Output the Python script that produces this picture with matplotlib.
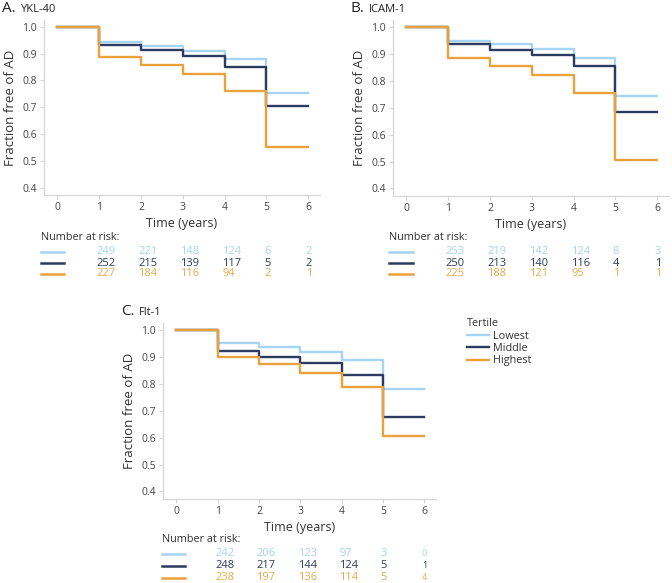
import numpy as np
import matplotlib
matplotlib.use("Agg")
import matplotlib.pyplot as plt
from matplotlib.transforms import blended_transform_factory

plt.rcParams.update({"font.family": ["Open Sans", "DejaVu Sans"], "font.size": 8})

# ---- data ----
years = [0, 1, 2, 3, 4, 5, 6]
tertiles = ["Lowest", "Middle", "Highest"]
colors = {"Lowest": "#a6d4f2", "Middle": "#2c3c60", "Highest": "#eba13b"}
txt_colors = {"Lowest": "#a6d4f2", "Middle": "#2c3c60", "Highest": "#e9a84a"}

ykl_surv = {"Lowest":  [1.0, 0.945, 0.930, 0.912, 0.879, 0.753],
            "Middle":  [1.0, 0.934, 0.913, 0.892, 0.852, 0.703],
            "Highest": [1.0, 0.886, 0.857, 0.824, 0.761, 0.552]}
icam_surv = {"Lowest":  [1.0, 0.948, 0.936, 0.917, 0.886, 0.744],
             "Middle":  [1.0, 0.936, 0.916, 0.897, 0.855, 0.683],
             "Highest": [1.0, 0.885, 0.855, 0.821, 0.756, 0.507]}
flt_surv = {"Lowest":  [1.0, 0.950, 0.935, 0.918, 0.889, 0.781],
            "Middle":  [1.0, 0.922, 0.900, 0.877, 0.833, 0.677],
            "Highest": [1.0, 0.899, 0.872, 0.842, 0.787, 0.605]}

ykl_risk = {"Lowest": [249, 221, 148, 124, 6, 2],
            "Middle": [252, 215, 139, 117, 5, 2],
            "Highest": [227, 184, 116, 94, 2, 1]}
icam_risk = {"Lowest": [253, 219, 142, 124, 8, 3],
             "Middle": [250, 213, 140, 116, 4, 1],
             "Highest": [225, 188, 121, 95, 1, 1]}
flt_risk = {"Lowest": [242, 206, 123, 97, 3, 0],
            "Middle": [248, 217, 144, 124, 5, 1],
            "Highest": [238, 197, 136, 114, 5, 4]}

W, H = 672, 583
fig = plt.figure(figsize=(W / 100, H / 100), dpi=100)


def px_axes(l, t, r, b):
    return fig.add_axes([l / W, 1 - b / H, (r - l) / W, (b - t) / H])


def km_panel(ax, surv, letter, name, risk, risk_y, line_x, small_last=False):
    for t in tertiles:
        y = surv[t] + [surv[t][-1]]
        ax.step(years, y, where="post", color=colors[t], lw=1.7, label=t)
    ax.set_xlim(-0.32, 6.28)
    ax.set_ylim(0.372, 1.026)
    ax.set_xticks(years)
    ax.set_yticks([0.4, 0.5, 0.6, 0.7, 0.8, 0.9, 1.0])
    ax.set_yticklabels([f"{v:.1f}" for v in [0.4, 0.5, 0.6, 0.7, 0.8, 0.9, 1.0]])
    for s in ["top", "right"]:
        ax.spines[s].set_visible(False)
    for s in ["left", "bottom"]:
        ax.spines[s].set_color("#d6d6d6")
        ax.spines[s].set_linewidth(0.9)
    ax.tick_params(colors="#d6d6d6", labelcolor="#444444", labelsize=7.5, length=3, width=0.8, pad=2)
    ax.set_xlabel("Time (years)", fontsize=9, color="#333333", labelpad=3)
    ax.set_ylabel("Fraction free of AD", fontsize=9.5, color="#333333", labelpad=4)

    # title
    pos = ax.get_position()
    tx = pos.x0 - 42 / W
    ty = pos.y1 + 8 / H
    t1 = fig.text(tx, ty, letter, fontsize=11, color="#222222", va="baseline")
    fig.canvas.draw()
    bb = t1.get_window_extent()
    fig.text(bb.x1 / (W) + 4 / W, ty, name, fontsize=8, color="#222222", va="baseline")

    # number at risk table
    tr = blended_transform_factory(ax.transData, fig.transFigure)
    fig.text(line_x[0] / W, 1 - risk_y[0] / H, "Number at risk:", fontsize=7.8,
             color="#333333", va="center", ha="left")
    for i, t in enumerate(tertiles):
        yy = 1 - risk_y[i + 1] / H
        fig.add_artist(plt.Line2D([line_x[0] / W, line_x[1] / W], [yy, yy],
                                  color=colors[t], lw=1.8, transform=fig.transFigure))
        for j, n in enumerate(risk[t]):
            if small_last and j == len(risk[t]) - 1:
                fig.text(years[j + 1], yy, str(n), transform=tr, fontsize=6.5,
                         color=txt_colors[t], va="center", ha="center")
            else:
                fig.text(years[j + 1] - 0.06, yy, str(n), transform=tr, fontsize=8,
                         color=txt_colors[t], va="center", ha="left")


axA = px_axes(44, 20, 320, 195)
km_panel(axA, ykl_surv, "A.", "YKL-40", ykl_risk, [237, 252, 263, 274], (41, 64))

axB = px_axes(393, 20, 669, 196)
km_panel(axB, icam_surv, "B.", "ICAM-1", icam_risk, [237, 252, 263, 274], (389, 413))

axC = px_axes(163, 323, 436, 499)
km_panel(axC, flt_surv, "C.", "Flt-1", flt_risk, [540, 554, 566, 578], (162, 185), small_last=True)

leg = axC.legend(title="Tertile", loc="upper left", bbox_to_anchor=(462 / W, 1 - 313 / H),
                 bbox_transform=fig.transFigure, frameon=False, fontsize=7.8,
                 title_fontsize=7.8, handlelength=2.0, handletextpad=0.4,
                 labelspacing=0.12, borderpad=0)
leg._legend_box.align = "left"
for txt in leg.get_texts():
    txt.set_color("#333333")
leg.get_title().set_color("#333333")

fig.savefig("out.png", dpi=100)
